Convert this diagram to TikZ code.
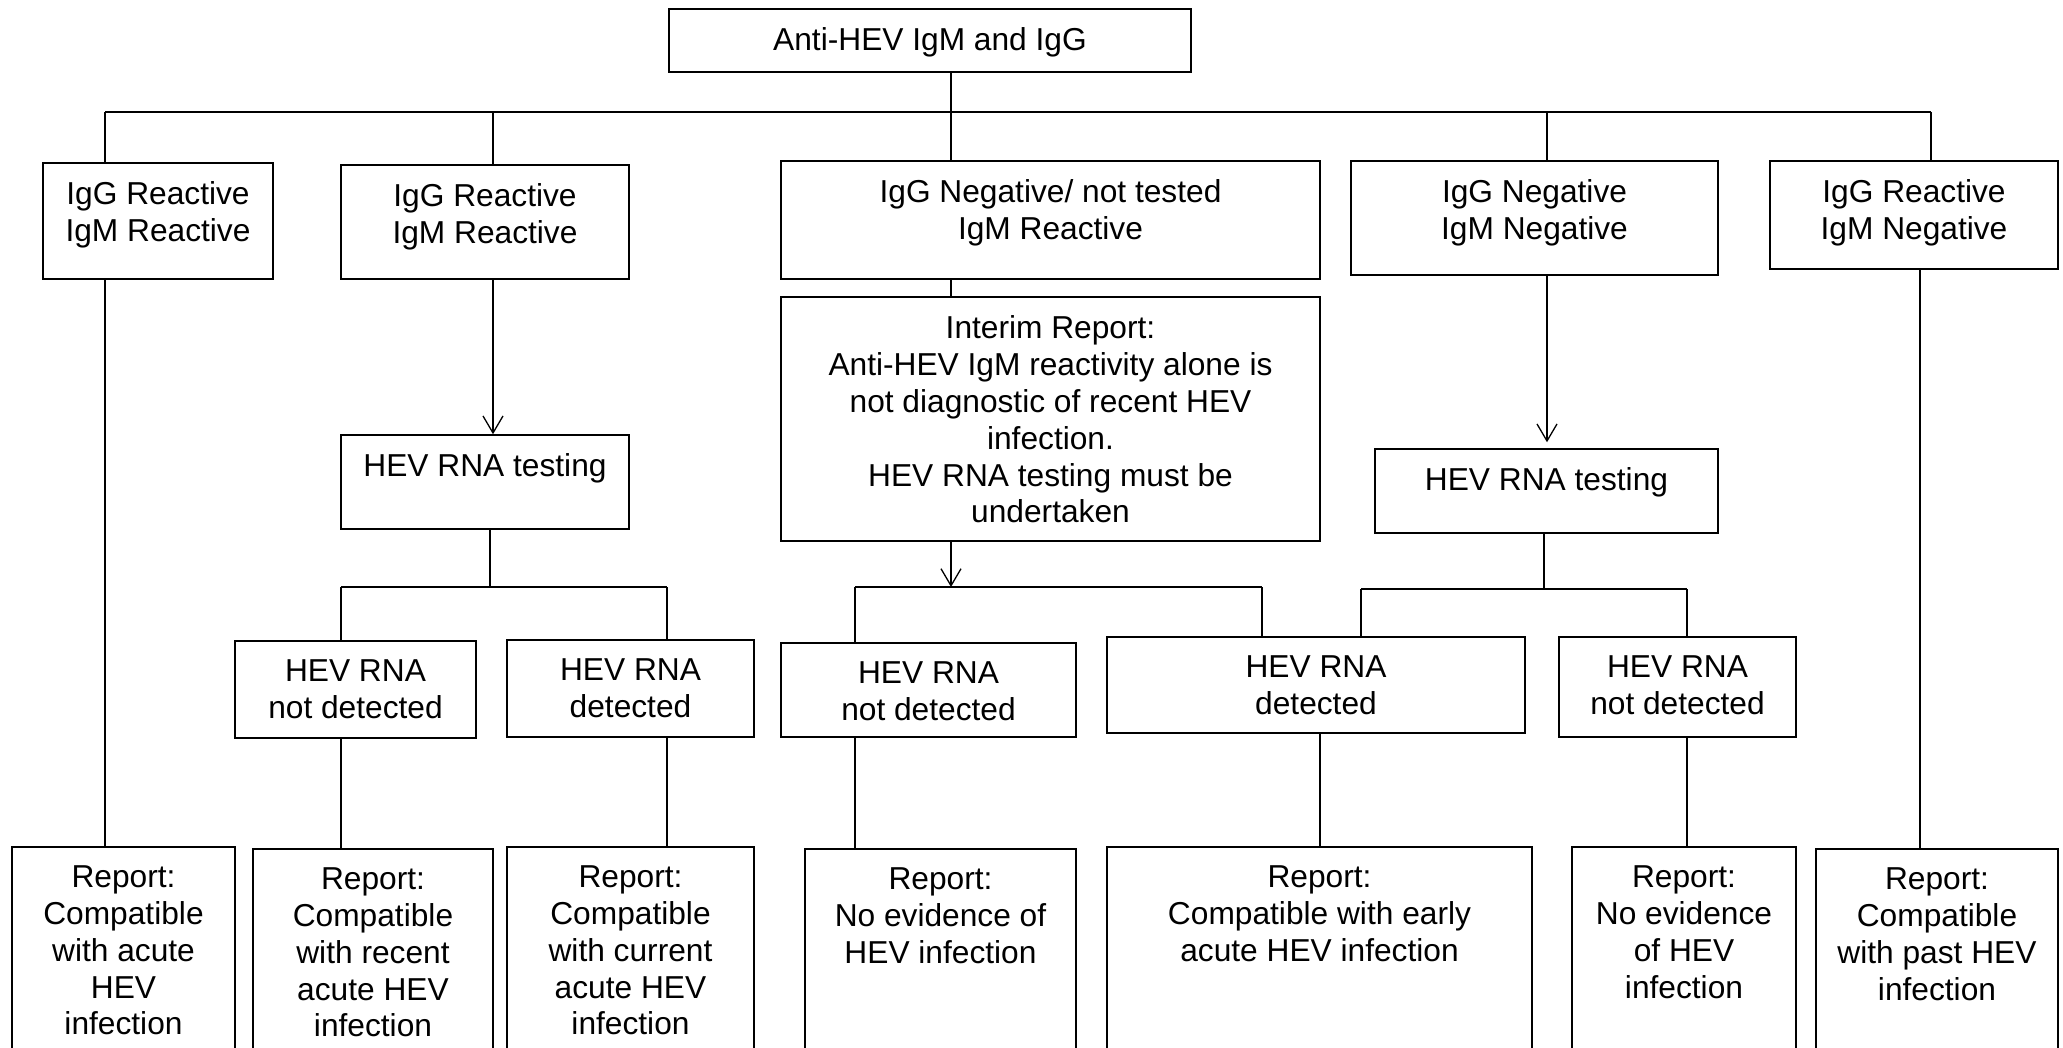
\documentclass[tikz,border=0pt]{standalone}
\usepackage{fontspec}
\setmainfont{Liberation Sans}
\usetikzlibrary{arrows.meta,fit}

\begin{document}
\begin{tikzpicture}[x=0.5pt, y=-0.5pt,
  box/.style={draw, line width=0.75pt, inner sep=0pt},
  txt/.style={anchor=north, align=center, inner sep=0pt, font=\fontsize{15.85}{18.4}\selectfont},
  con/.style={line width=0.65pt},
  arr/.style={con, -{Straight Barb[length=8.5pt, width=10pt]}}]
  \clip (0,0) rectangle (2063,1048);

  % boxes
  \node [box, fit={(669,9) (1191,72)}] (top) {};
  \node [box, fit={(43,163) (273,279)}] (b1) {};
  \node [box, fit={(341,165) (629,279)}] (b2) {};
  \node [box, fit={(781,161) (1320,279)}] (b3) {};
  \node [box, fit={(1351,161) (1718,275)}] (b4) {};
  \node [box, fit={(1770,161) (2058,269)}] (b5) {};
  \node [box, fit={(781,297) (1320,541)}] (interim) {};
  \node [box, fit={(341,435) (629,529)}] (t1) {};
  \node [box, fit={(1375,449) (1718,533)}] (t2) {};
  \node [box, fit={(235,641) (476,738)}] (nd1) {};
  \node [box, fit={(507,640) (754,737)}] (det1) {};
  \node [box, fit={(781,643) (1076,737)}] (nd2) {};
  \node [box, fit={(1107,637) (1525,733)}] (det2) {};
  \node [box, fit={(1559,637) (1796,737)}] (nd3) {};
  \node [box, fit={(12,847) (235,1060)}] (r1) {};
  \node [box, fit={(253,849) (493,1060)}] (r2) {};
  \node [box, fit={(507,847) (754,1060)}] (r3) {};
  \node [box, fit={(805,849) (1076,1060)}] (r4) {};
  \node [box, fit={(1107,847) (1532,1060)}] (r5) {};
  \node [box, fit={(1572,847) (1796,1060)}] (r6) {};
  \node [box, fit={(1816,849) (2058,1060)}] (r7) {};

  % texts
  \node [txt] (topT) at ([yshift=-9.6pt]top.north) {Anti-HEV IgM and IgG};
  \node [txt] (b1T) at ([yshift=-9.6pt]b1.north) {IgG Reactive\\IgM Reactive};
  \node [txt] (b2T) at ([yshift=-9.6pt]b2.north) {IgG Reactive\\IgM Reactive};
  \node [txt] (b3T) at ([yshift=-9.6pt]b3.north) {IgG Negative/ not tested\\IgM Reactive};
  \node [txt] (b4T) at ([yshift=-9.6pt]b4.north) {IgG Negative\\IgM Negative};
  \node [txt] (b5T) at ([yshift=-9.6pt]b5.north) {IgG Reactive\\IgM Negative};
  \node [txt] (interimT) at ([yshift=-9.6pt]interim.north) {Interim Report:\\Anti-HEV IgM reactivity alone is\\not diagnostic of recent HEV\\infection.\\HEV RNA testing must be\\undertaken};
  \node [txt] (t1T) at ([yshift=-9.6pt]t1.north) {HEV RNA testing};
  \node [txt] (t2T) at ([yshift=-9.6pt]t2.north) {HEV RNA testing};
  \node [txt] (nd1T) at ([yshift=-9.6pt]nd1.north) {HEV RNA\\not detected};
  \node [txt] (det1T) at ([yshift=-9.6pt]det1.north) {HEV RNA\\detected};
  \node [txt] (nd2T) at ([yshift=-9.6pt]nd2.north) {HEV RNA\\not detected};
  \node [txt] (det2T) at ([yshift=-9.6pt]det2.north) {HEV RNA\\detected};
  \node [txt] (nd3T) at ([yshift=-9.6pt]nd3.north) {HEV RNA\\not detected};
  \node [txt] (r1T) at ([yshift=-9.6pt]r1.north) {Report:\\Compatible\\with acute\\HEV\\infection};
  \node [txt] (r2T) at ([yshift=-9.6pt]r2.north) {Report:\\Compatible\\with recent\\acute HEV\\infection};
  \node [txt] (r3T) at ([yshift=-9.6pt]r3.north) {Report:\\Compatible\\with current\\acute HEV\\infection};
  \node [txt] (r4T) at ([yshift=-9.6pt]r4.north) {Report:\\No evidence of\\HEV infection};
  \node [txt] (r5T) at ([yshift=-9.6pt]r5.north) {Report:\\Compatible with early\\acute HEV infection};
  \node [txt] (r6T) at ([yshift=-9.6pt]r6.north) {Report:\\No evidence\\of HEV\\infection};
  \node [txt] (r7T) at ([yshift=-9.6pt]r7.north) {Report:\\Compatible\\with past HEV\\infection};

  % first split
  \coordinate (d1) at (105,112);
  \coordinate (d2) at (493,112);
  \coordinate (d3) at (951,112);
  \coordinate (d4) at (1547,112);
  \coordinate (d5) at (1931,112);
  \draw [con] (top.south -| d3) -- (d3);
  \draw [con] (d1) -- (d5);
  \foreach \c/\n in {d1/b1, d2/b2, d3/b3, d4/b4, d5/b5}
    \draw [con] (\c) -- (\c |- \n.north);

  % down the columns
  \draw [con] (b1.south -| d1) -- (r1.north -| d1);
  \draw [arr] (b2.south -| d2) -- (t1.north -| d2);
  \draw [con] (b3.south -| d3) -- (interim.north -| d3);
  \draw [arr, shorten >=3pt] (b4.south -| d4) -- (t2.north -| d4);
  \draw [con] ([xshift=3pt]b5.south) -- ([xshift=3pt]b5.south |- r7.north);

  % left RNA split
  \coordinate (j1) at (490,587);
  \coordinate (j1a) at (341,587);
  \coordinate (j1b) at (667,587);
  \draw [con] (t1.south -| j1) -- (j1);
  \draw [con] (j1a) -- (j1b);
  \draw [con] (j1a) -- (j1a |- nd1.north);
  \draw [con] (j1b) -- (j1b |- det1.north);
  \draw [con] (nd1.south -| j1a) -- (r2.north -| j1a);
  \draw [con] (det1.south -| j1b) -- (r3.north -| j1b);

  % middle split
  \coordinate (j2) at (951,587);
  \coordinate (j2a) at (855,587);
  \coordinate (j2b) at (1262,587);
  \draw [arr] (interim.south -| j2) -- (j2);
  \draw [con] (j2a) -- (j2b);
  \draw [con] (j2a) -- (j2a |- nd2.north);
  \draw [con] (j2b) -- (j2b |- det2.north);
  \draw [con] (nd2.south -| j2a) -- (r4.north -| j2a);

  % right RNA split
  \coordinate (j3) at (1544,589);
  \coordinate (j3a) at (1361,589);
  \coordinate (j3b) at (1687,589);
  \draw [con] (t2.south -| j3) -- (j3);
  \draw [con] (j3a) -- (j3b);
  \draw [con] (j3a) -- (j3a |- det2.north);
  \draw [con] (j3b) -- (j3b |- nd3.north);
  \draw [con] ([xshift=2pt]det2.south) -- ([xshift=2pt]det2.south |- r5.north);
  \draw [con] (nd3.south -| j3b) -- (r6.north -| j3b);
\end{tikzpicture}
\end{document}
